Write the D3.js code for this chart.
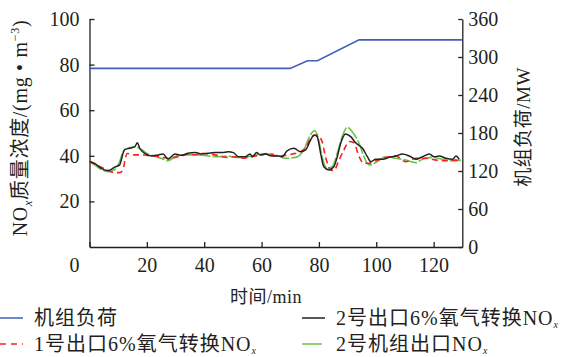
<!DOCTYPE html>
<html>
<head>
<meta charset="utf-8">
<script src="https://cdn.jsdelivr.net/npm/d3@7"></script>
<style>
  body { margin: 0; background: #fff; }
  text { font-family: "Liberation Serif", "Noto Sans CJK SC", serif; fill: #231f20; }
</style>
</head>
<body>
<svg id="chart"></svg>
<script>
// load (MW, right axis)
let loadTime = [0, 70, 76, 79.5, 94, 130];
let loadVal = [282, 282, 294, 294, 327, 327];

// unit 2 outlet, 6% O2 converted NOx (black)
let blackTime = [0, 1.8, 4.1, 6.5, 8.8, 10.5, 11.7, 12.3, 14, 15.8, 16.7, 17.5, 19.3, 21.6, 24, 25.7, 27.4, 29.8, 32.1, 34.4, 36.8, 39.1, 41.4, 43.8, 46.1, 48.4, 50.2, 51.9, 54.3, 56, 56.8, 58.3, 59.5, 61.3, 63.6, 65.9, 67.2, 68.9, 71.3, 73.6, 75.3, 77.1, 78.3, 79.4, 80.6, 81.7, 83.5, 85.2, 86.4, 87.6, 89.3, 91.1, 92.8, 95.2, 96.9, 98.1, 99.8, 102.2, 104.5, 106.8, 109.2, 111.5, 113.8, 116.1, 118.5, 120.2, 122, 124.3, 126.6, 127.8, 128.9];
let blackVal = [37.4, 36.7, 34.5, 33.5, 35, 36, 41.1, 42.8, 43.3, 44, 45.7, 43.3, 41.1, 39.9, 40.4, 40.8, 38.5, 40.8, 40.2, 41.1, 41.4, 40.8, 41.1, 41.4, 41.4, 41.8, 41.4, 39.6, 39.6, 40.8, 39.6, 41.4, 40.4, 40.8, 39.9, 39.9, 39.6, 42.2, 43.3, 41.8, 42.5, 46.9, 49.1, 48.4, 41.1, 35.2, 33.8, 35.2, 39.6, 45.5, 49.6, 48.4, 45.7, 43.3, 39.6, 37.4, 38.5, 38.5, 39.3, 39.9, 40.8, 39.9, 38.5, 39.6, 40.8, 39.6, 39.9, 38.9, 38.5, 39.9, 38.5];

// unit 1 outlet, 6% O2 converted NOx (red dashed)
let redTime = [0, 1.8, 4.1, 6.5, 8.8, 10.5, 11.7, 12.5, 13.2, 15.8, 18, 20.3, 22.6, 24.9, 27.4, 29.8, 32.1, 34.4, 36.8, 39.1, 41.4, 43.8, 46.1, 48.4, 50.8, 53.1, 55.4, 57.8, 60.1, 62.4, 64.8, 68.4, 70.7, 73, 75.3, 77.6, 79.4, 81.1, 82.3, 84.1, 85.2, 87, 88.7, 90.5, 92.2, 94, 95.7, 97.5, 99.8, 103.3, 106.8, 110.3, 113.8, 117.3, 120.8, 124.3, 127.8, 129.5];
let redVal = [37.6, 36.3, 35, 33.5, 32.6, 32.6, 34, 39, 41, 40.4, 40.4, 40.2, 39.9, 39.5, 38.9, 39.3, 39.9, 40.8, 40.4, 41.1, 40.8, 40.4, 39.6, 39.3, 39.6, 38.9, 39.3, 39.9, 40.4, 41.1, 40, 40.2, 40.8, 41.5, 43.5, 48.4, 49.1, 46.3, 39.6, 33.8, 33.5, 38.1, 42.5, 46.3, 45.7, 39.6, 36.7, 36.7, 37.8, 39.3, 39.9, 37.4, 38.9, 38.9, 38.1, 37.8, 38.1, 37.4];

// unit 2 unit outlet NOx (green)
let greenTime = [0, 1.8, 4.1, 6.5, 8.8, 10.5, 11.7, 13.4, 15.8, 18.1, 20.3, 22.6, 24.9, 27.4, 29.8, 32.1, 34.4, 37.9, 41.4, 44.9, 48.4, 50.8, 53.1, 56.6, 60.1, 63.6, 65.9, 68.4, 71.9, 74.7, 77, 78.5, 79.9, 81.1, 82.8, 84.6, 86.4, 88.1, 89.9, 91.6, 94, 95.7, 97.5, 99.8, 103.3, 106.8, 110.3, 113.8, 116.1, 119.6, 123.1, 126.6, 129.5];
let greenVal = [37.4, 36, 34, 33, 34, 37.4, 41.8, 43.3, 44, 42.8, 40.8, 39.9, 38.9, 37.8, 39.6, 40.4, 40.4, 40.4, 39.9, 39.6, 39.9, 39.3, 39.3, 39.9, 40.8, 40.8, 39.9, 38.9, 39.3, 42.5, 49.1, 51.1, 46.9, 39.6, 34.5, 35.2, 41.1, 48.4, 52.5, 50.6, 45.5, 39.6, 36, 37, 39.6, 38.9, 38.1, 37, 38.5, 39.3, 38.5, 37.8, 38.1];

let xTicks = [0, 20, 40, 60, 80, 100, 120];
let yLeftTicks = [20, 40, 60, 80, 100];
let yRightTicks = [0, 60, 120, 180, 240, 300, 360];

let ancho = 573, alto = 357;
let izq = 89.5, der = 462.3, arriba = 19, abajo = 247;

let svg = d3.select('#chart')
    .attr("width", ancho)
    .attr("height", alto);

let x = d3.scaleLinear().domain([0, 130]).range([izq, der]);
let yL = d3.scaleLinear().domain([0, 100]).range([abajo, arriba]);
let yR = d3.scaleLinear().domain([0, 360]).range([abajo, arriba]);

// EJES
let ejeX = svg.append("g")
    .attr("transform", "translate(0," + abajo + ")")
    .call(d3.axisBottom(x).tickValues(xTicks).tickSize(-5).tickSizeOuter(0).tickPadding(11));
ejeX.selectAll(".tick").filter(d => d === 0).select("text").remove();

let ejeL = svg.append("g")
    .attr("transform", "translate(" + izq + ",0)")
    .call(d3.axisLeft(yL).tickValues(yLeftTicks).tickSize(-5).tickSizeOuter(0).tickPadding(10));

let ejeR = svg.append("g")
    .attr("transform", "translate(" + der + ",0)")
    .call(d3.axisRight(yR).tickValues(yRightTicks).tickSize(-4).tickSizeOuter(0).tickPadding(6));

svg.selectAll(".domain, .tick line").attr("stroke", "#231f20").attr("stroke-width", 1.3);
svg.selectAll(".tick text").attr("font-size", 20).attr("font-family", "Liberation Serif").attr("fill", "#231f20");

// corner zero
svg.append("text")
    .attr("x", izq - 15).attr("y", abajo + 25)
    .attr("text-anchor", "middle")
    .attr("font-size", 20)
    .text("0");

// LINEAS
let lineaL = d3.line().curve(d3.curveMonotoneX);
function pares(t, v, ys) { return t.map((d, i) => [x(d), ys(v[i])]); }

svg.append("path")
    .attr("d", d3.line()(pares(loadTime, loadVal, yR)))
    .attr("fill", "none").attr("stroke", "#4060b8").attr("stroke-width", 1.6);

svg.append("path")
    .attr("d", lineaL(pares(greenTime, greenVal, yL)))
    .attr("fill", "none").attr("stroke", "#6cc04a").attr("stroke-width", 1.6)
    .attr("stroke-dasharray", "14,2");

svg.append("path")
    .attr("d", lineaL(pares(redTime, redVal, yL)))
    .attr("fill", "none").attr("stroke", "#ff1f1f").attr("stroke-width", 1.6)
    .attr("stroke-dasharray", "6,4");

svg.append("path")
    .attr("d", lineaL(pares(blackTime, blackVal, yL)))
    .attr("fill", "none").attr("stroke", "#222").attr("stroke-width", 1.5);

// TITULOS
svg.append("text")
    .attr("x", (izq + der) / 2 - 10).attr("y", 303)
    .attr("text-anchor", "middle")
    .attr("font-size", 18)
    .attr("letter-spacing", 0.5)
    .text("时间/min");

let tL = svg.append("text")
    .attr("transform", "translate(27," + 128 + ") rotate(-90)")
    .attr("text-anchor", "middle")
    .attr("font-size", 20)
    .attr("letter-spacing", 0.7);
tL.append("tspan").text("NO");
tL.append("tspan").attr("font-size", 12).attr("font-style", "italic").attr("dy", 5).text("x");
tL.append("tspan").attr("dy", -5).text("质量浓度/(mg • m");
tL.append("tspan").attr("font-size", 12).attr("dy", -8).text("−3");
tL.append("tspan").attr("dy", 8).text(")");

svg.append("text")
    .attr("transform", "translate(530," + 127 + ") rotate(-90)")
    .attr("text-anchor", "middle")
    .attr("font-size", 19)
    .attr("letter-spacing", 0.5)
    .text("机组负荷/MW");

// LEYENDA
let leyenda = [
    { nombre: "机组负荷", sub: false, color: "#4060b8", dash: null, lx: 0, ly: 318 },
    { nombre: "2号出口6%氧气转换NO", sub: true, color: "#222", dash: null, lx: 302, ly: 318 },
    { nombre: "1号出口6%氧气转换NO", sub: true, color: "#ff1f1f", dash: "6,5", lx: 0, ly: 344 },
    { nombre: "2号机组出口NO", sub: true, color: "#6cc04a", dash: "20,4,6,50", lx: 302, ly: 344 }
];

let items = svg.selectAll(".ley")
    .data(leyenda)
    .enter()
    .append("g")
    .attr("transform", d => "translate(" + d.lx + "," + d.ly + ")");

items.append("line")
    .attr("x1", 0).attr("x2", 23).attr("y1", 0).attr("y2", 0)
    .attr("stroke", d => d.color).attr("stroke-width", 1.5)
    .attr("stroke-dasharray", d => d.dash);

let tx = items.append("text")
    .attr("x", 34).attr("y", 7)
    .attr("font-size", 20)
    .attr("letter-spacing", 1);
tx.append("tspan").text(d => d.nombre);
tx.filter(d => d.sub).append("tspan")
    .attr("font-size", 10).attr("font-style", "italic").attr("dy", 3).text("x");
</script>
</body>
</html>
